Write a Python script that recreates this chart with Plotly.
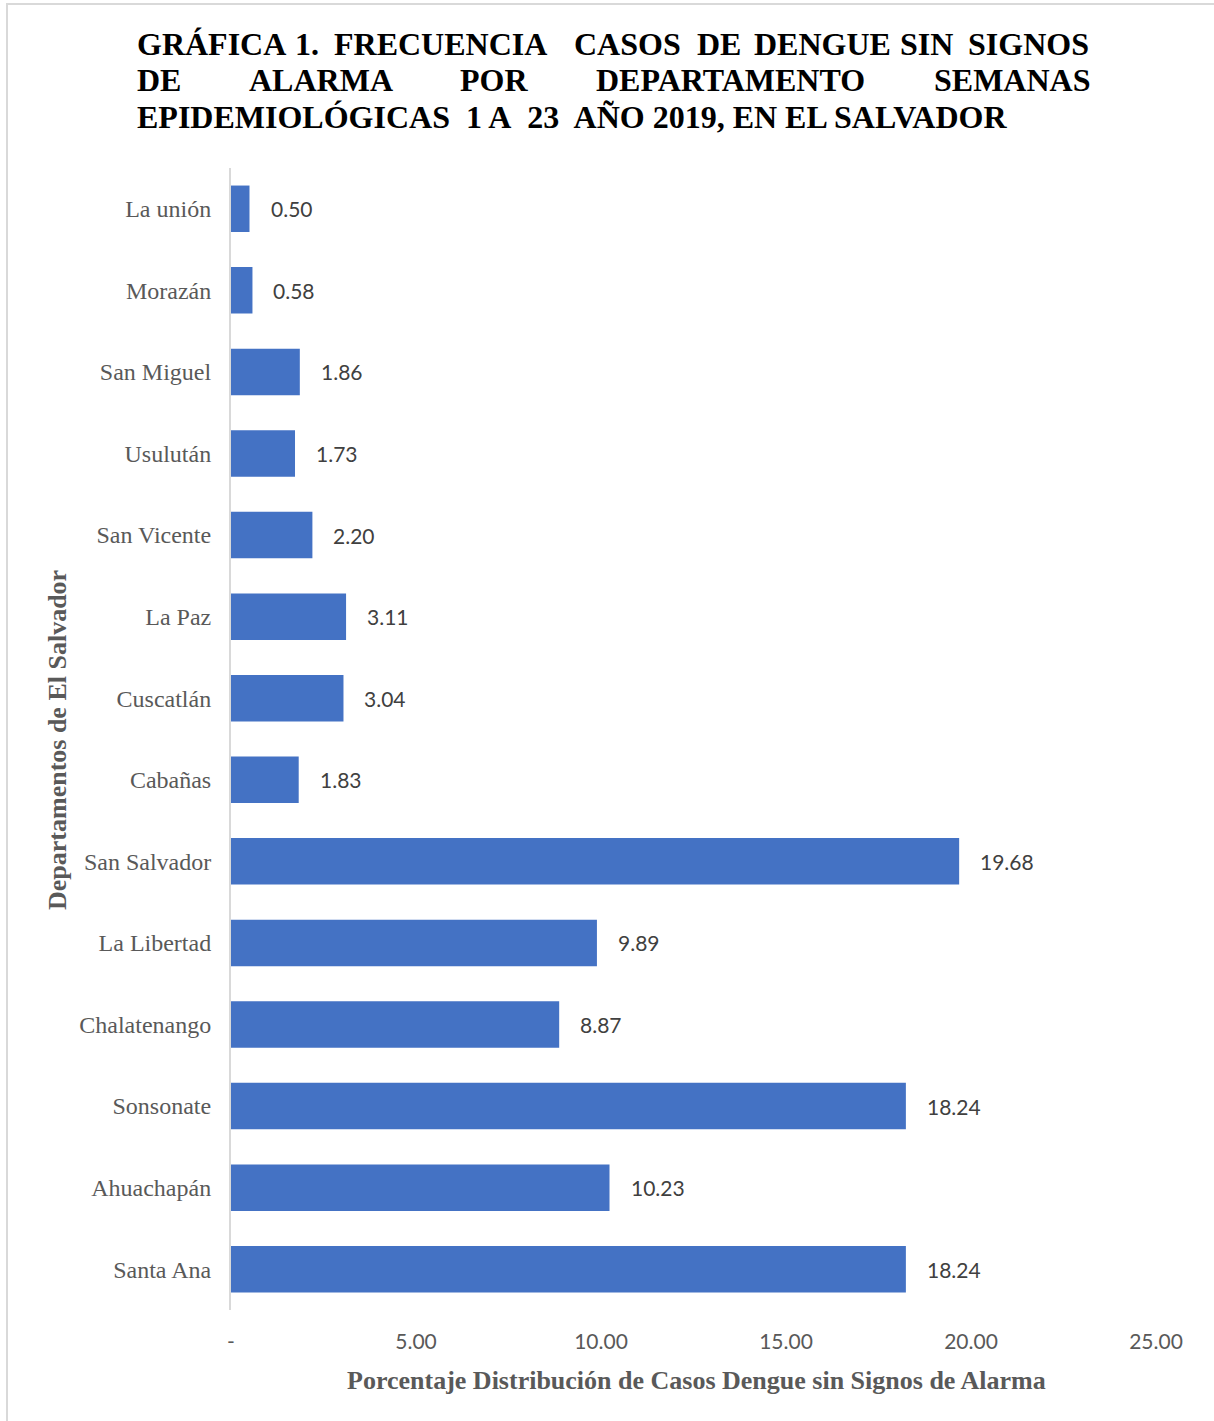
import plotly.graph_objects as go

# Departamentos (de abajo hacia arriba en el eje) y porcentajes
departamentos = [
    "Santa Ana", "Ahuachapán", "Sonsonate", "Chalatenango", "La Libertad",
    "San Salvador", "Cabañas", "Cuscatlán", "La Paz", "San Vicente",
    "Usulután", "San Miguel", "Morazán", "La unión",
]
porcentajes = [18.24, 10.23, 18.24, 8.87, 9.89, 19.68, 1.83, 3.04, 3.11, 2.20,
               1.73, 1.86, 0.58, 0.50]

tick_vals = [0, 5, 10, 15, 20, 25]
tick_text = ["-", "5.00", "10.00", "15.00", "20.00", "25.00"]

W, H = 1214, 1421
ML, MR, MT, MB = 231, 58, 168, 111
PW, PH = W - ML - MR, H - MT - MB

BAR = "#4472C4"
GREY = "#595959"
SERIF = "Liberation Serif, Times New Roman, serif"
SANS = "Lato, Carlito, Calibri, sans-serif"


def px_x(x):
    return (x - ML) / PW


def px_y(y):
    return (H - MB - y) / PH


fig = go.Figure(go.Bar(
    x=porcentajes,
    y=departamentos,
    orientation="h",
    marker=dict(color=BAR, line=dict(width=0)),
    width=0.57,
    hoverinfo="x+y",
))

annotations = []

# Etiquetas de valor a la derecha de cada barra
for d, v in zip(departamentos, porcentajes):
    annotations.append(dict(
        x=v, y=d, xref="x", yref="y", text=f"{v:.2f}", showarrow=False,
        xanchor="left", yanchor="middle", xshift=19,
        font=dict(family=SANS, size=21, color="#404040"),
    ))

# Título justificado, palabra por palabra
title_font = dict(family=SERIF, size=32, color="black")
line1 = [("GRÁFICA", 135), ("1.", 293), ("FRECUENCIA", 332), ("CASOS", 572),
         ("DE", 695), ("DENGUE", 752), ("SIN", 898), ("SIGNOS", 966)]
line2 = [("DE", 135), ("ALARMA", 247), ("POR", 458), ("DEPARTAMENTO", 594),
         ("SEMANAS", 932)]
for words, yc in ((line1, 44), (line2, 80)):
    for w, x0 in words:
        annotations.append(dict(
            x=px_x(x0), y=px_y(yc), xref="paper", yref="paper",
            text=f"<b>{w}</b>", showarrow=False, xanchor="left",
            yanchor="middle", font=title_font,
        ))
annotations.append(dict(
    x=px_x(135), y=px_y(117), xref="paper", yref="paper",
    text="<b>EPIDEMIOLÓGICAS&nbsp; 1 A&nbsp; 23&nbsp; AÑO 2019, EN EL SALVADOR</b>",
    showarrow=False, xanchor="left", yanchor="middle", font=title_font,
))

# Títulos de ejes
annotations.append(dict(
    x=px_x(696), y=px_y(1380), xref="paper", yref="paper",
    text="<b>Porcentaje Distribución de Casos Dengue sin Signos de Alarma</b>",
    showarrow=False, xanchor="center", yanchor="middle",
    font=dict(family=SERIF, size=26, color=GREY),
))
annotations.append(dict(
    x=px_x(57), y=px_y(740), xref="paper", yref="paper",
    text="<b>Departamentos de El Salvador</b>", textangle=-90,
    showarrow=False, xanchor="center", yanchor="middle",
    font=dict(family=SERIF, size=26, color=GREY),
))

# Marco exterior (bordes izquierdo y superior visibles)
shapes = [dict(
    type="rect", xref="paper", yref="paper",
    x0=px_x(7), x1=px_x(1230), y0=px_y(1440), y1=px_y(4),
    line=dict(color="#d9d9d9", width=2), fillcolor="rgba(0,0,0,0)",
    layer="below",
)]

fig.update_layout(
    width=W, height=H,
    margin=dict(l=ML, r=MR, t=MT, b=MB, pad=0),
    paper_bgcolor="white", plot_bgcolor="white",
    showlegend=False,
    annotations=annotations,
    shapes=shapes,
    bargap=0.43,
    xaxis=dict(
        range=[0, 25], tickvals=tick_vals, ticktext=tick_text,
        showgrid=False, zeroline=False, showline=False, ticks="",
        tickfont=dict(family=SANS, size=21, color=GREY),
        ticklabelstandoff=17, fixedrange=True,
    ),
    yaxis=dict(
        categoryorder="array", categoryarray=departamentos,
        range=[-0.5, 13.5],
        showgrid=False, zeroline=False, showline=True,
        linecolor="#d9d9d9", linewidth=2, ticks="",
        tickfont=dict(family=SERIF, size=24, color=GREY),
        ticklabelstandoff=13, fixedrange=True,
    ),
)

fig.write_html("out.html")
